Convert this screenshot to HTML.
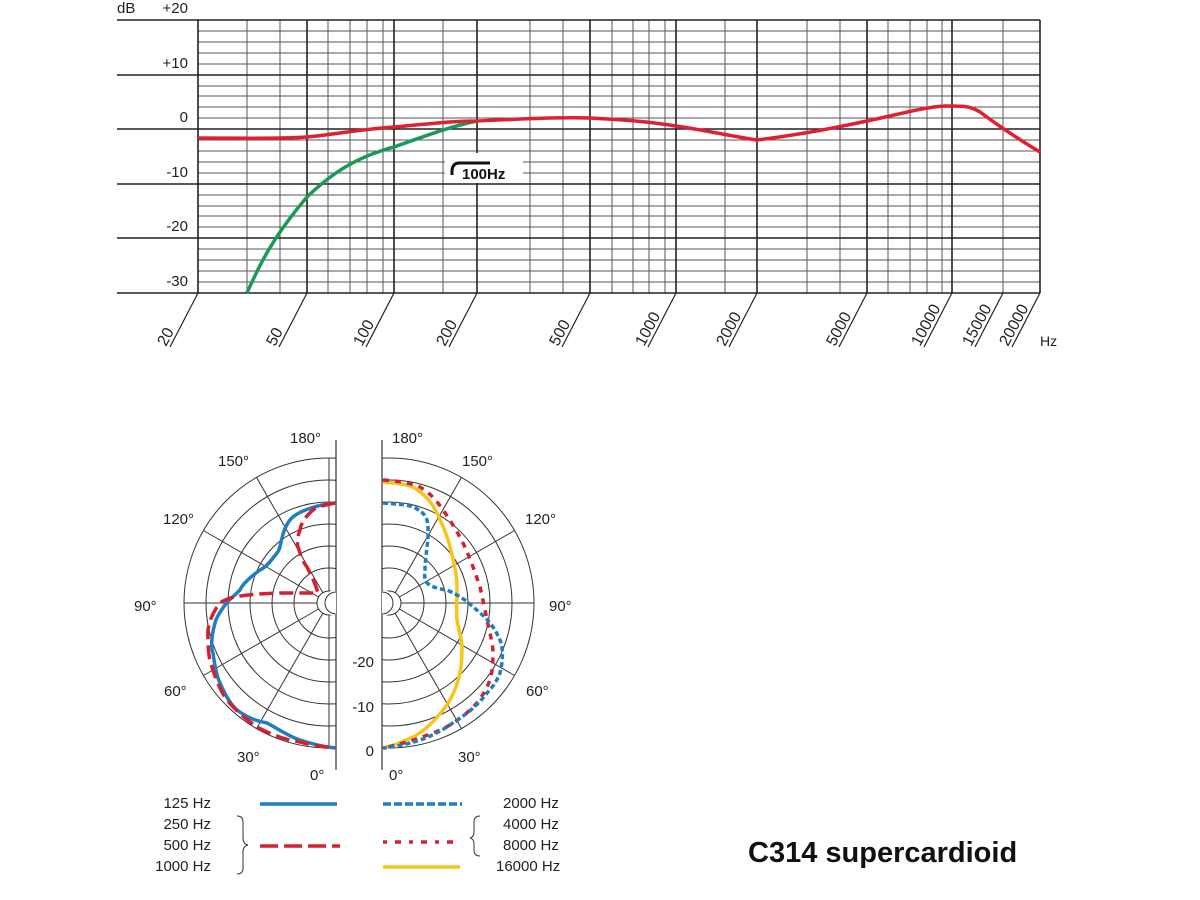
<!DOCTYPE html>
<html><head><meta charset="utf-8"><style>
html,body{margin:0;padding:0;background:#fff;}
svg{display:block;font-family:"Liberation Sans",Arial,sans-serif;}
</style></head><body>
<svg width="1200" height="900" viewBox="0 0 1200 900" xmlns="http://www.w3.org/2000/svg">
<rect width="1200" height="900" fill="#fff"/>
<g stroke="#555" stroke-width="1">
<path d="M198 31H1040M198 42H1040M198 53H1040M198 64H1040
M198 86H1040M198 96H1040M198 107H1040M198 118H1040
M198 140H1040M198 151H1040M198 162H1040M198 173H1040
M198 195H1040M198 206H1040M198 216H1040M198 227H1040
M198 249H1040M198 260H1040M198 271H1040M198 282H1040"/>
</g>
<g stroke="#555" stroke-width="1">
<path d="M247 20V293M280 20V293M328 20V293M350 20V293M367 20V293M383 20V293M443 20V293M530 20V293M563 20V293M612 20V293M633 20V293M649 20V293M665 20V293M725 20V293M807 20V293M840 20V293M888 20V293M910 20V293M927 20V293M942 20V293M1003 20V293"/>
</g>
<g stroke="#222" stroke-width="1.6">
<path d="M117 20H1040M117 75H1040M117 129H1040M117 184H1040M117 238H1040M117 293H1040"/>
</g>
<g stroke="#222" stroke-width="1.6">
<path d="M198 20V293M307 20V293M394 20V293M477 20V293M590 20V293M676 20V293M757 20V293M867 20V293M952 20V293M1040 20V293"/>
</g>
<g stroke="#222" stroke-width="1.2">
<path d="M198 293l-28 54M307 293l-28 54M394 293l-28 54M477 293l-28 54M590 293l-28 54M676 293l-28 54M757 293l-28 54M867 293l-28 54M952 293l-28 54M1003 293l-28 54M1040 293l-28 54"/>
</g>
<g font-size="16" fill="#222">
<text transform="translate(166,347) rotate(-62)">20</text>
<text transform="translate(275,347) rotate(-62)">50</text>
<text transform="translate(362,347) rotate(-62)">100</text>
<text transform="translate(445,347) rotate(-62)">200</text>
<text transform="translate(558,347) rotate(-62)">500</text>
<text transform="translate(644,347) rotate(-62)">1000</text>
<text transform="translate(725,347) rotate(-62)">2000</text>
<text transform="translate(835,347) rotate(-62)">5000</text>
<text transform="translate(920,347) rotate(-62)">10000</text>
<text transform="translate(971,347) rotate(-62)">15000</text>
<text transform="translate(1008,347) rotate(-62)">20000</text>
</g>
<text x="1040" y="346" font-size="14" fill="#222">Hz</text>
<g font-size="15" fill="#222" text-anchor="end">
<text x="188" y="13">+20</text>
<text x="188" y="68">+10</text>
<text x="188" y="122">0</text>
<text x="188" y="177">-10</text>
<text x="188" y="231">-20</text>
<text x="188" y="286">-30</text>
</g>
<text x="117" y="13" font-size="15" fill="#222">dB</text>
<rect x="445" y="153" width="78" height="30" fill="#fff"/>
<path d="M452 175 L452 170 Q453 163 459 163 L490 163" stroke="#111" stroke-width="3" fill="none"/>
<text x="462" y="179" font-size="15" font-weight="bold" fill="#111">100Hz</text>
<path d="M247 293 C258 268 272 238 307 197 C335 170 360 156 394 147 C425 136 452 126 477 121" stroke="#1a9a55" stroke-width="3.5" fill="none"/>
<path d="M198 138 C240 138 280 139 307 137 C330 135 355 130 394 127 C430 124 450 121 477 121 C520 119 560 117 590 118 C630 120 650 122 676 126 C710 131 735 137 757 140 C790 136 830 129 867 121 C900 114 925 107 945 106 C965 106 970 106 980 112 C1000 127 1020 140 1040 152" stroke="#e02030" stroke-width="3.5" fill="none"/>

<defs>
<clipPath id="cl"><rect x="150" y="420" width="186" height="360"/></clipPath>
<clipPath id="cr"><rect x="382" y="420" width="200" height="360"/></clipPath>
</defs>
<g clip-path="url(#cl)" stroke="#333" stroke-width="1" fill="none">
<circle cx="329" cy="603" r="145"/>
<circle cx="329" cy="603" r="123"/>
<circle cx="329" cy="603" r="101"/>
<circle cx="329" cy="603" r="79"/>
<circle cx="329" cy="603" r="57"/>
<circle cx="329" cy="603" r="35"/>
<circle cx="329" cy="603" r="12"/>
<path d="M329 615L329 748M329 591L329 458M317 603L184 603
M323 613L256.5 728.6M323 593L256.5 477.4M318.6 609L203.4 675.5M318.6 597L203.4 530.5"/>
</g>
<path d="M336 440V770" stroke="#333" stroke-width="1.2"/>
<rect x="330" y="591" width="6" height="24" fill="#fff"/>
<path d="M336 592 A11 11 0 0 0 336 614" stroke="#333" fill="none"/>
<g clip-path="url(#cr)" stroke="#333" stroke-width="1" fill="none">
<circle cx="389" cy="603" r="145"/>
<circle cx="389" cy="603" r="123"/>
<circle cx="389" cy="603" r="101"/>
<circle cx="389" cy="603" r="79"/>
<circle cx="389" cy="603" r="57"/>
<circle cx="389" cy="603" r="35"/>
<circle cx="389" cy="603" r="12"/>
<path d="M401 603L534 603
M395 613L461.5 728.6M395 593L461.5 477.4M399.4 609L514.6 675.5M399.4 597L514.6 530.5"/>
</g>
<path d="M382 440V770" stroke="#333" stroke-width="1.2"/>
<rect x="382" y="591" width="6" height="24" fill="#fff"/>
<path d="M382 592 A11 11 0 0 1 382 614" stroke="#333" fill="none"/>

<path d="M335 503 C322 504 298 510 290 520 C280 533 282 548 277 553 C270 562 266 567 260 570 C250 577 242 585 240 590 C233 597 229 600 227 602 C220 612 216 618 215 623 C211 637 211 648 213 653 C215 668 217 677 220 683 C226 697 231 705 237 710 C248 718 256 721 267 723 C280 730 290 737 300 740 C315 745 325 747 335 748" stroke="#1f7ec0" stroke-width="3.5" fill="none"/>
<path d="M335 503 C325 505 316 507 313 510 C305 517 301 523 300 530 C297 538 297 543 298 547 C301 556 303 562 307 567 C311 575 315 582 318 593 L280 593 C250 594 238 596 230 598 C222 601 219 603 217 607 C210 618 207 628 208 637 C208 650 209 660 212 667 C216 680 221 692 227 700 C237 712 247 720 257 727 C272 735 286 740 300 742 C315 746 325 747 335 748" stroke="#d42030" stroke-width="3.5" stroke-dasharray="14 6" fill="none"/>

<path d="M383 482 C395 483 405 484 413 487 C425 494 432 503 437 513 C444 528 448 538 450 547 C455 565 457 577 457 587 C457 600 456 612 457 620 C459 632 462 640 462 647 C462 660 461 668 460 673 C456 690 450 702 443 710 C434 722 424 731 413 737 C402 742 393 746 383 748" stroke="#f5c518" stroke-width="3.5" fill="none"/>
<path d="M383 480 C398 481 410 483 420 487 C430 493 437 501 443 510 C452 523 458 533 463 543 C471 560 476 575 480 587 C483 600 485 610 487 620 C490 633 493 645 493 653 C493 665 492 673 490 680 C485 693 478 703 470 710 C458 721 446 728 433 733 C415 740 398 745 383 748" stroke="#d42030" stroke-width="3.5" stroke-dasharray="6 6" fill="none"/>
<path d="M383 503 C395 504 405 504 413 507 C420 510 425 514 427 520 C429 530 428 540 427 547 C426 557 425 564 425 570 C424 576 425 580 427 583 C433 588 440 589 447 590 C458 595 466 600 473 607 C482 614 488 620 493 627 C498 635 501 641 502 647 C503 657 502 665 500 673 C497 681 492 688 487 693 C478 705 468 713 457 720 C445 729 432 736 420 740 C405 745 393 747 383 748" stroke="#1f7ec0" stroke-width="3.5" stroke-dasharray="5 3" fill="none"/>

<g font-size="15" fill="#222">
<text x="290" y="443">180°</text>
<text x="218" y="466">150°</text>
<text x="163" y="524">120°</text>
<text x="134" y="611">90°</text>
<text x="164" y="696">60°</text>
<text x="237" y="762">30°</text>
<text x="310" y="780">0°</text>
<text x="392" y="443">180°</text>
<text x="462" y="466">150°</text>
<text x="525" y="524">120°</text>
<text x="549" y="611">90°</text>
<text x="526" y="696">60°</text>
<text x="458" y="762">30°</text>
<text x="389" y="780">0°</text>
<text x="374" y="667" text-anchor="end">-20</text>
<text x="374" y="712" text-anchor="end">-10</text>
<text x="374" y="756" text-anchor="end">0</text>
</g>

<g font-size="15" fill="#222">
<text x="211" y="808" text-anchor="end">125 Hz</text>
<text x="211" y="829" text-anchor="end">250 Hz</text>
<text x="211" y="850" text-anchor="end">500 Hz</text>
<text x="211" y="871" text-anchor="end">1000 Hz</text>
<text x="503" y="808">2000 Hz</text>
<text x="503" y="829">4000 Hz</text>
<text x="503" y="850">8000 Hz</text>
<text x="496" y="871">16000 Hz</text>
</g>
<path d="M237 816 Q243 816 243 822 L243 838 Q243 844 248 845 Q243 846 243 852 L243 868 Q243 874 237 874" stroke="#333" stroke-width="1" fill="none"/>
<path d="M480 816 Q474 816 474 822 L474 832 Q474 837 470 838 Q474 839 474 844 L474 850 Q474 856 480 856" stroke="#333" stroke-width="1" fill="none"/>
<path d="M260 804H337" stroke="#1f7ec0" stroke-width="3.5"/>
<path d="M260 846H340" stroke="#d42030" stroke-width="3.5" stroke-dasharray="18 6"/>
<path d="M383 804H462" stroke="#1f7ec0" stroke-width="3.5" stroke-dasharray="8 3"/>
<path d="M383 842H460" stroke="#d42030" stroke-width="3.5" stroke-dasharray="4 8 6 8"/>
<path d="M383 867H460" stroke="#f5c518" stroke-width="3.5"/>
<text x="748" y="862" font-size="29" font-weight="bold" fill="#111">C314 supercardioid</text>
</svg>
</body></html>
